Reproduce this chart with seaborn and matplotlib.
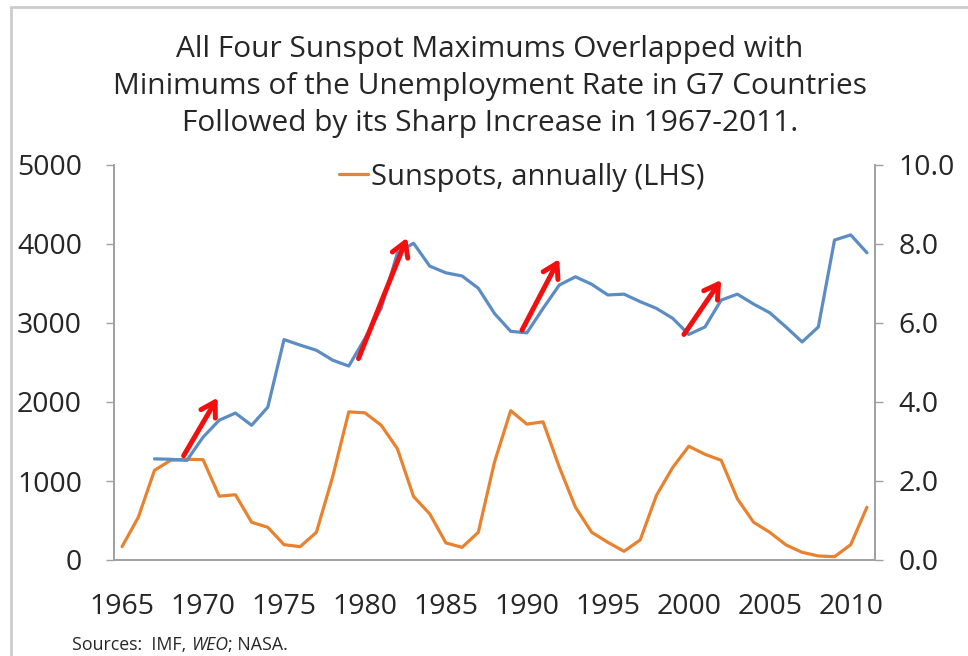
import numpy as np
import pandas as pd
import matplotlib.pyplot as plt
import seaborn as sns
from matplotlib.patches import Rectangle, FancyArrowPatch

# data
years = list(range(1965, 2012))
sunspots = [170, 540, 1135, 1262, 1275, 1270, 808, 826, 478, 414,
            194, 169, 351, 1050, 1875, 1863, 1706, 1410, 804, 584,
            216, 160, 351, 1240, 1890, 1720, 1749, 1177, 668, 351,
            224, 110, 254, 817, 1169, 1440, 1338, 1262, 775, 478,
            351, 191, 97, 51, 42, 194, 668]
unemp_years = list(range(1967, 2012))
unemployment = [2.56, 2.55, 2.52, 3.11, 3.54, 3.72, 3.41, 3.87, 5.58, 5.44,
                5.31, 5.06, 4.91, 5.61, 6.37, 7.77, 8.02, 7.44, 7.27, 7.19,
                6.88, 6.24, 5.79, 5.75, 6.37, 6.96, 7.17, 6.98, 6.71, 6.73,
                6.54, 6.37, 6.12, 5.71, 5.90, 6.58, 6.73, 6.48, 6.26, 5.90,
                5.52, 5.90, 8.10, 8.23, 7.78]

# red arrows (year, rate) -> (year, rate)
arrow_start = [(1968.8, 2.64), (1979.6, 5.10), (1989.7, 5.82), (1999.7, 5.71)]
arrow_end = [(1970.9, 4.11), (1982.6, 8.16), (1992.0, 7.62), (2002.0, 7.09)]

title_lines = ["All Four Sunspot Maximums Overlapped with",
               "Minimums of the Unemployment Rate in G7 Countries",
               "Followed by its Sharp Increase in 1967-2011."]

sun_df = pd.DataFrame({"Year": years, "Sunspots": sunspots})
un_df = pd.DataFrame({"Year": unemp_years, "Unemployment": unemployment})

sns.set_style("white")
plt.rcParams['font.family'] = ['Open Sans', 'DejaVu Sans']

orange = "#E8822E"
blue = "#5B8CC4"
grey = "#A0A0A0"
W, H = 968, 656

fig = plt.figure(figsize=(9.68, 6.56), dpi=100)
ax = fig.add_axes([114/W, 1-560/H, (875-114)/W, (560-165)/H])
ax2 = ax.twinx()

sns.lineplot(data=sun_df, x="Year", y="Sunspots", ax=ax, color=orange,
             linewidth=2.3, label="Sunspots, annually (LHS)")
sns.lineplot(data=un_df, x="Year", y="Unemployment", ax=ax2, color=blue,
             linewidth=2.3, legend=False)

for (x0, y0), (x1, y1) in zip(arrow_start, arrow_end):
    ax2.add_patch(FancyArrowPatch((x0, y0), (x1, y1), arrowstyle="->,head_length=10,head_width=6",
                                  color="#F01010", linewidth=3.6, mutation_scale=1,
                                  shrinkA=0, shrinkB=0, zorder=5))

ax.set_xlim(1964.5, 2011.5)
ax.set_ylim(0, 5000)
ax2.set_ylim(0, 10)
ax.set_yticks(range(0, 5001, 1000))
ax2.set_yticks(np.arange(0, 10.1, 2))
ax2.set_yticklabels([f"{v:.1f}" for v in np.arange(0, 10.1, 2)])

ax.set_xticks(range(1965, 2011, 5))
ax.set_xticks(np.arange(1964.5, 2012, 1), minor=True)
ax.tick_params(axis='x', which='major', length=0, pad=24, labelsize=20.5)
ax.tick_params(axis='x', which='minor', length=6, width=1, color=grey, direction='out')
ax.tick_params(axis='y', length=6, width=1, color=grey, pad=17, labelsize=20.5, left=True)
ax2.tick_params(axis='y', length=6, width=1, color=grey, pad=11, labelsize=20.5, right=True)
ax.set_xlabel("")
ax.set_ylabel("")
ax2.set_ylabel("")

for a in (ax, ax2):
    a.spines['top'].set_visible(False)
    for s in ('left', 'right', 'bottom'):
        a.spines[s].set_color(grey)
        a.spines[s].set_linewidth(1.2)

ax.legend(loc='center', bbox_to_anchor=(522/W, 1-177/H), bbox_transform=fig.transFigure,
          frameon=False, fontsize=21, handlelength=1.0, handletextpad=0.1)

for i, line in enumerate(title_lines):
    fig.text(490/W, 1-(57 + 37*i)/H, line, ha='center', va='baseline', fontsize=21.5)

# sources line with italic WEO
fig.canvas.draw()
r = fig.canvas.get_renderer()
t1 = fig.text(72/W, 1-645/H, "Sources:  IMF, ", fontsize=12.8, va='center')
bb = t1.get_window_extent(r)
t2 = fig.text(bb.x1/W, 1-645/H, "WEO", fontsize=12.8, va='center', style='italic')
bb = t2.get_window_extent(r)
fig.text(bb.x1/W, 1-645/H, "; NASA.", fontsize=12.8, va='center')

fig.patches.append(Rectangle((11/W, -0.05), 1.2, 1.05 - 7/H, transform=fig.transFigure,
                             fill=False, edgecolor="#CCCCCC", linewidth=2))

fig.savefig("out.png", dpi=100)
